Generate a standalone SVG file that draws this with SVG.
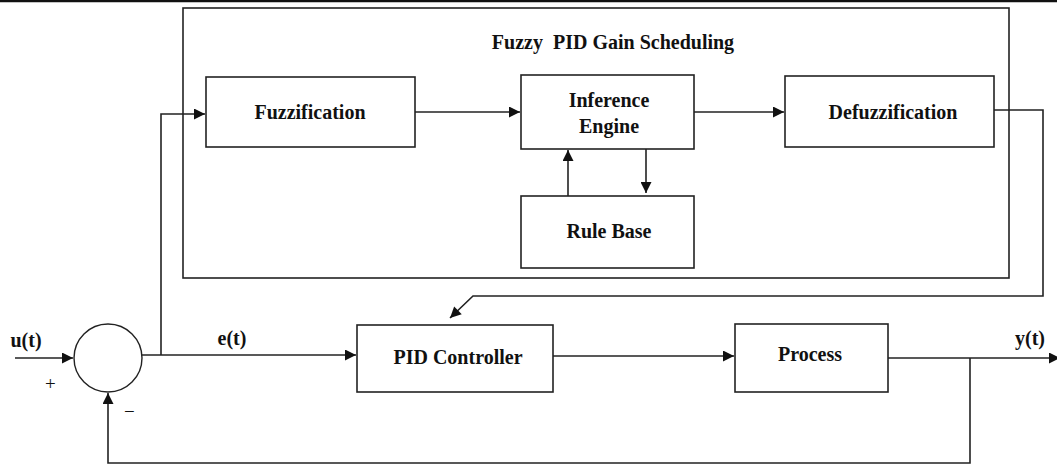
<svg xmlns="http://www.w3.org/2000/svg" width="1057" height="465" viewBox="0 0 1057 465">
<style>
.box{fill:#fff;stroke:#222;stroke-width:1.6}
.ln{fill:none;stroke:#222;stroke-width:1.6}
.t{font-family:"Liberation Serif","Times New Roman",serif;font-weight:bold;font-size:20px;fill:#111;text-anchor:middle}
.s{font-family:"Liberation Serif","Times New Roman",serif;font-size:19px;fill:#111}
</style>
<defs>
<marker id="ah" viewBox="0 0 10 10" refX="10" refY="5" markerWidth="12" markerHeight="11" markerUnits="userSpaceOnUse" orient="auto">
<path d="M0,0 L10,5 L0,10 z" fill="#111"/>
</marker>
</defs>
<rect x="0" y="0" width="1057" height="465" fill="#fff"/>
<line x1="0" y1="1" x2="1057" y2="1" stroke="#111" stroke-width="2.5"/>
<g id="scheduler">
<rect class="box" x="183" y="8" width="826" height="270"/>
<text class="t" x="613" y="49" style="white-space:pre" xml:space="preserve">Fuzzy  PID Gain Scheduling</text>
</g>
<g id="fuzzification">
<rect class="box" x="206" y="77" width="209" height="70"/>
<text class="t" x="310" y="119">Fuzzification</text>
</g>
<g id="inference">
<rect class="box" x="521" y="75" width="173" height="74"/>
<text class="t" x="609" y="107">Inference</text>
<text class="t" x="609" y="133">Engine</text>
</g>
<g id="defuzzification">
<rect class="box" x="785" y="76" width="209" height="71"/>
<text class="t" x="893" y="119">Defuzzification</text>
</g>
<g id="rulebase">
<rect class="box" x="521" y="196" width="173" height="72"/>
<text class="t" x="609" y="238">Rule Base</text>
</g>
<g id="sum">
<circle cx="108" cy="358" r="34" fill="#fff" stroke="#222" stroke-width="1.4"/>
</g>
<g id="pid">
<rect class="box" x="357" y="325" width="196" height="67"/>
<text class="t" x="458" y="364">PID Controller</text>
</g>
<g id="process">
<rect class="box" x="735" y="324" width="153" height="68"/>
<text class="t" x="810" y="361">Process</text>
</g>
<g id="connectors">
<line class="ln" x1="415" y1="112" x2="520" y2="112" marker-end="url(#ah)"/>
<line class="ln" x1="694" y1="112" x2="784" y2="112" marker-end="url(#ah)"/>
<line class="ln" x1="568" y1="196" x2="568" y2="150" marker-end="url(#ah)"/>
<line class="ln" x1="646" y1="149" x2="646" y2="193" marker-end="url(#ah)"/>
<polyline class="ln" points="994,110 1043,110 1043,296 473,296 450,318" marker-end="url(#ah)"/>
<line class="ln" x1="15" y1="358" x2="73" y2="358" marker-end="url(#ah)"/>
<line class="ln" x1="142" y1="355" x2="356" y2="355" marker-end="url(#ah)"/>
<polyline class="ln" points="161,355 161,114 205,114" marker-end="url(#ah)"/>
<line class="ln" x1="553" y1="356" x2="734" y2="356" marker-end="url(#ah)"/>
<line class="ln" x1="888" y1="358" x2="1060" y2="358" marker-end="url(#ah)"/>
<polyline class="ln" points="970,358 970,463 108,463 108,393" marker-end="url(#ah)"/>
</g>
<g id="labels">
<text class="t" x="26" y="347">u(t)</text>
<text class="s" x="45" y="390">+</text>
<text class="s" x="124" y="418">−</text>
<text class="t" x="232" y="345">e(t)</text>
<text class="t" x="1030" y="345">y(t)</text>
</g>
</svg>
